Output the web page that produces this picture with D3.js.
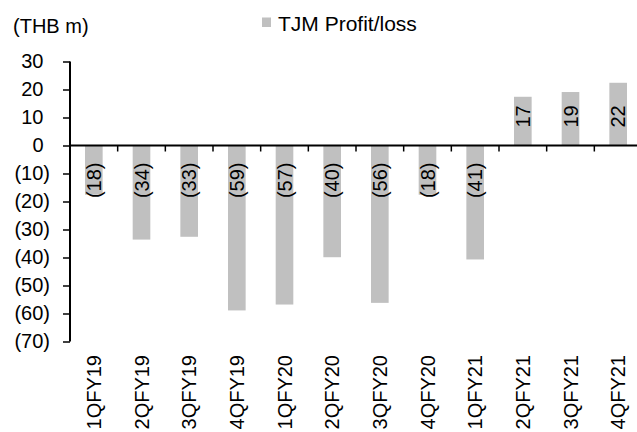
<!DOCTYPE html>
<html>
<head>
<meta charset="utf-8">
<script src="https://cdn.jsdelivr.net/npm/d3@7/dist/d3.min.js"></script>
<style>
  html, body { margin: 0; padding: 0; background: #fff; }
  svg { display: block; }
  text { font-family: "Liberation Sans", Arial, sans-serif; fill: #000; }
</style>
</head>
<body>
<script>
const categories = ["1QFY19","2QFY19","3QFY19","4QFY19","1QFY20","2QFY20","3QFY20","4QFY20","1QFY21","2QFY21","3QFY21","4QFY21"];
const profitLoss = [-17.6, -33.6, -32.6, -58.9, -56.8, -39.9, -56.2, -17.6, -40.7, 17.4, 19.1, 22.4];
const yTicks = [30, 20, 10, 0, -10, -20, -30, -40, -50, -60, -70];
const seriesName = "TJM Profit/loss";
const unitLabel = "(THB m)";

const W = 637, H = 432;
const FS = 20;
const barColor = "#c0c0c0";

const svg = d3.select("body").append("svg").attr("width", W).attr("height", H);

const x = d3.scaleBand().domain(categories).range([70, 642]).paddingInner(0.63).paddingOuter(0.315);
const y = d3.scaleLinear().domain([-70, 30]).range([341.5, 61.5]);

const fmt = v => v < 0 ? "(" + Math.round(-v) + ")" : String(Math.round(v));

// bars
svg.append("g").selectAll("rect").data(categories).join("rect")
  .attr("x", d => x(d))
  .attr("width", x.bandwidth())
  .attr("y", (d, i) => y(Math.max(0, profitLoss[i])))
  .attr("height", (d, i) => Math.abs(y(profitLoss[i]) - y(0)))
  .attr("fill", barColor);

// y axis
const yAxis = svg.append("g").attr("transform", "translate(70,0)")
  .call(d3.axisLeft(y).tickValues(yTicks).tickSize(7).tickPadding(13).tickFormat(fmt));
yAxis.select(".domain").attr("stroke", "#000").attr("stroke-width", 2).attr("d", `M0,${y(30)}V${y(-70)}`);
yAxis.selectAll(".tick line").attr("stroke", "#000").attr("stroke-width", 1.5);
yAxis.selectAll(".tick text")
  .attr("font-size", FS)
  .attr("font-family", "Liberation Sans, Arial, sans-serif")
  .attr("x", d => d < 0 ? -20 : -26.5);

// zero line + category ticks
const zero = svg.append("g");
zero.append("line").attr("x1", 70).attr("x2", 642).attr("y1", y(0)).attr("y2", y(0))
  .attr("stroke", "#000").attr("stroke-width", 2);
zero.selectAll("line.t").data(categories.slice(1)).join("line").attr("class", "t")
  .attr("x1", d => x(d) - x.step() * x.paddingInner() / 2)
  .attr("x2", d => x(d) - x.step() * x.paddingInner() / 2)
  .attr("y1", y(0)).attr("y2", y(0) + 6)
  .attr("stroke", "#000").attr("stroke-width", 1.5);
zero.append("line")
  .attr("x1", 642).attr("x2", 642).attr("y1", y(0)).attr("y2", y(0) + 6)
  .attr("stroke", "#000").attr("stroke-width", 1.5);

// value labels
svg.append("g").selectAll("text").data(categories).join("text")
  .attr("transform", (d, i) => {
    const cx = x(d) + x.bandwidth() / 2;
    const v = profitLoss[i];
    const ty = v < 0 ? y(0) + 17 : y(0) - 18;
    return `translate(${cx},${ty}) rotate(-90)`;
  })
  .attr("text-anchor", (d, i) => profitLoss[i] < 0 ? "end" : "start")
  .attr("dy", "0.35em")
  .attr("font-size", FS)
  .text((d, i) => fmt(profitLoss[i]));

// category labels
svg.append("g").selectAll("text").data(categories).join("text")
  .attr("transform", d => `translate(${x(d) + x.bandwidth() / 2},355) rotate(-90)`)
  .attr("text-anchor", "end")
  .attr("dy", "0.35em")
  .attr("font-size", FS)
  .text(d => d);

// unit label
svg.append("text").attr("x", 13).attr("y", 32.5).attr("font-size", FS).text(unitLabel);

// legend
svg.append("rect").attr("x", 262).attr("y", 17.5).attr("width", 9).attr("height", 9.5).attr("fill", barColor);
svg.append("text").attr("x", 278).attr("y", 31).attr("font-size", 21).text(seriesName);
</script>
</body>
</html>
